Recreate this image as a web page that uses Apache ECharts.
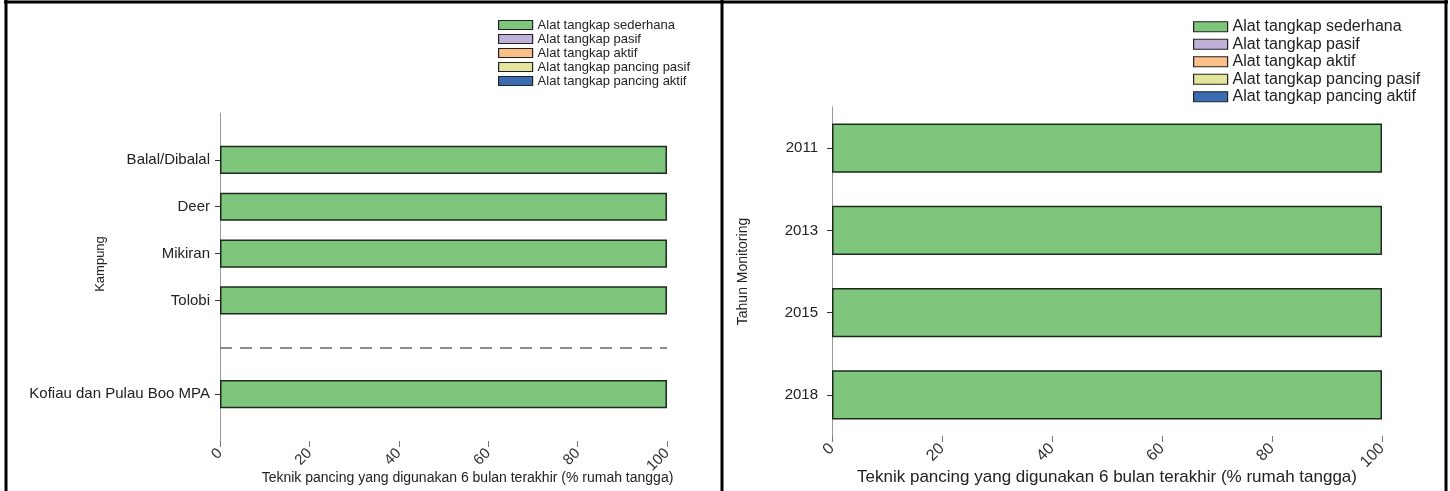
<!DOCTYPE html>
<html lang="en">
<head>
    <meta charset="UTF-8">
    <title>Teknik pancing</title>
    <style>
        html, body { margin: 0; padding: 0; background: #fff; }
    </style>
</head>
<body>
<div id="main" style="width: 1450px;height:491px;"></div>
<script src="https://cdn.jsdelivr.net/npm/echarts@6/dist/echarts.min.js"></script>
<script>
    // data
    var gearNames = ['Alat tangkap sederhana', 'Alat tangkap pasif', 'Alat tangkap aktif',
        'Alat tangkap pancing pasif', 'Alat tangkap pancing aktif'];
    var gearColors = ['#7fc67d', '#c0b1d8', '#fbbf88', '#e4e59c', '#3a6cb2'];

    // blank slots keep the spacing of the R barplot (gap + dashed line before the MPA bar)
    var villages = [' ', 'Balal/Dibalal', 'Deer', 'Mikiran', 'Tolobi', '  ', 'Kofiau dan Pulau Boo MPA', '   '];
    var villSederhana = [null, 100, 100, 100, 100, null, 100, null];
    var villPasif = [null, 0, 0, 0, 0, null, 0, null];
    var villAktif = [null, 0, 0, 0, 0, null, 0, null];
    var villPancingPasif = [null, 0, 0, 0, 0, null, 0, null];
    var villPancingAktif = [null, 0, 0, 0, 0, null, 0, null];

    var years = ['2011', '2013', '2015', '2018'];
    var yearSederhana = [100, 100, 100, 100];
    var yearPasif = [0, 0, 0, 0];
    var yearAktif = [0, 0, 0, 0];
    var yearPancingPasif = [0, 0, 0, 0];
    var yearPancingAktif = [0, 0, 0, 0];

    var xTicks = [0, 20, 40, 60, 80, 100];
    var xTitle = 'Teknik pancing yang digunakan 6 bulan terakhir (% rumah tangga)';

    var font = 'Liberation Sans, Arial, sans-serif';
    var villData = [villSederhana, villPasif, villAktif, villPancingPasif, villPancingAktif];
    var yearData = [yearSederhana, yearPasif, yearAktif, yearPancingPasif, yearPancingAktif];

    var myChart = echarts.init(document.getElementById('main'));

    function xAxisFor(idx, fs, titleFs, gap, pad) {
        return {
            type: 'value',
            gridIndex: idx,
            min: xTicks[0],
            max: xTicks[xTicks.length - 1],
            interval: 20,
            splitLine: {show: false},
            axisLine: {show: false},
            axisTick: {show: true, length: 6, lineStyle: {color: '#777'}},
            axisLabel: {rotate: 45, margin: 10, fontSize: fs, color: '#333', fontFamily: font},
            name: xTitle,
            nameLocation: 'middle',
            nameGap: gap,
            nameMoveOverlap: false,
            nameTextStyle: {fontSize: titleFs, color: '#222', fontFamily: font, padding: pad}
        };
    }

    function barStyle(i) {
        // only the sederhana bars are drawn with an outline; the 0 % series stay invisible
        return {color: gearColors[i], borderColor: '#1e2a1e', borderWidth: i === 0 ? 1.5 : 0};
    }

    var series = [];
    gearNames.forEach(function (name, i) {
        var s = {
            name: name,
            type: 'bar',
            stack: 'kampung',
            xAxisIndex: 0,
            yAxisIndex: 0,
            barWidth: '60%',
            data: villData[i],
            itemStyle: barStyle(i)
        };
        if (i === 0) {
            s.markLine = {
                silent: true,
                symbol: 'none',
                label: {show: false},
                lineStyle: {type: [12, 8], color: '#666', width: 1.5},
                data: [{yAxis: 5}]
            };
        }
        series.push(s);
    });
    gearNames.forEach(function (name, i) {
        series.push({
            name: name,
            type: 'bar',
            stack: 'tahun',
            xAxisIndex: 1,
            yAxisIndex: 1,
            barWidth: '60%',
            data: yearData[i],
            itemStyle: barStyle(i)
        });
    });

    var option = {
        animation: false,
        textStyle: {fontFamily: font},
        legend: [
            {
                data: gearNames,
                orient: 'vertical',
                left: 493,
                top: 13,
                icon: 'rect',
                itemWidth: 34,
                itemHeight: 9,
                itemGap: 0,
                selectedMode: false,
                itemStyle: {borderColor: '#222', borderWidth: 1.2},
                textStyle: {fontSize: 13, lineHeight: 14, color: '#222', fontFamily: font}
            },
            {
                data: gearNames,
                orient: 'vertical',
                left: 1188,
                top: 13,
                icon: 'rect',
                itemWidth: 34,
                itemHeight: 10,
                itemGap: 0,
                selectedMode: false,
                itemStyle: {borderColor: '#222', borderWidth: 1.2},
                textStyle: {fontSize: 16, lineHeight: 17.5, color: '#222', fontFamily: font}
            }
        ],
        grid: [
            {left: 220, top: 113, width: 447, height: 328},
            {left: 832, top: 107, width: 550, height: 333}
        ],
        xAxis: [
            xAxisFor(0, 15, 14, 30, [0, 0, 0, 48]),
            xAxisFor(1, 16, 17, 33, 0)
        ],
        yAxis: [
            {
                type: 'category',
                gridIndex: 0,
                data: villages,
                inverse: true,
                boundaryGap: false,
                axisLine: {show: true, lineStyle: {color: '#999', width: 1}},
                axisTick: {
                    show: true, length: 5, lineStyle: {color: '#333'},
                    interval: function (index, value) { return value.trim() !== ''; }
                },
                axisLabel: {interval: 0, margin: 10, fontSize: 15, color: '#222', fontFamily: font},
                name: 'Kampung',
                nameLocation: 'middle',
                nameGap: 113,
                nameMoveOverlap: false,
                nameTextStyle: {fontSize: 13, color: '#222', fontFamily: font, padding: [0, 0, 0, 26]}
            },
            {
                type: 'category',
                gridIndex: 1,
                data: years,
                inverse: true,
                axisLine: {show: true, lineStyle: {color: '#999', width: 1}},
                axisTick: {show: true, length: 5, alignWithLabel: true, lineStyle: {color: '#333'}},
                axisLabel: {margin: 14, fontSize: 15, color: '#222', fontFamily: font},
                name: 'Tahun Monitoring',
                nameLocation: 'middle',
                nameGap: 82,
                nameMoveOverlap: false,
                nameTextStyle: {fontSize: 14, color: '#222', fontFamily: 'Liberation Sans Narrow, ' + font}
            }
        ],
        series: series,
        graphic: [
            // table frame around the two panels
            {type: 'line', shape: {x1: 4, y1: 2, x2: 1448, y2: 2}, style: {stroke: '#000', lineWidth: 3}},
            {type: 'line', shape: {x1: 6, y1: 0, x2: 6, y2: 491}, style: {stroke: '#000', lineWidth: 3}},
            {type: 'line', shape: {x1: 722, y1: 0, x2: 722, y2: 491}, style: {stroke: '#000', lineWidth: 3}},
            {type: 'line', shape: {x1: 1446, y1: 0, x2: 1446, y2: 491}, style: {stroke: '#000', lineWidth: 3}}
        ]
    };

    myChart.setOption(option);
</script>
</body>
</html>
